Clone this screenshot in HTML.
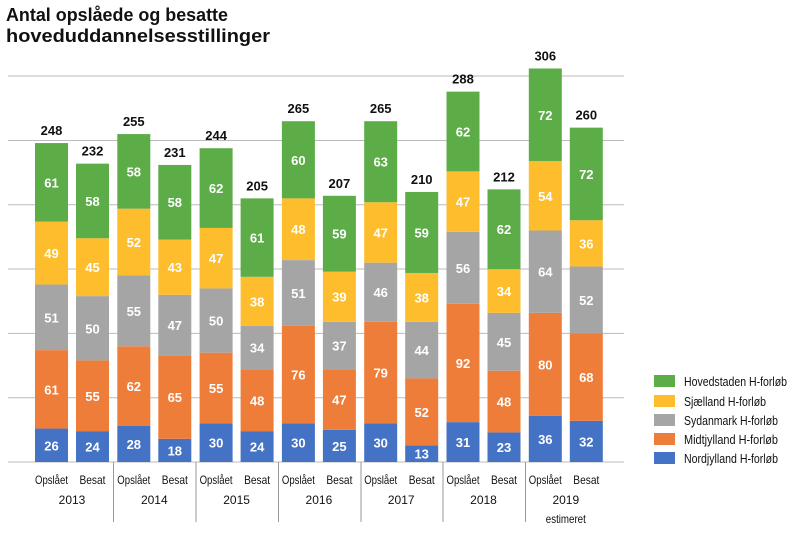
<!DOCTYPE html>
<html><head><meta charset="utf-8"><style>
html,body{margin:0;padding:0;background:#fff;}
svg{display:block;font-family:"Liberation Sans",sans-serif;}
.w{fill:#fff;font-weight:bold;font-size:13px;text-anchor:middle;}
.t{fill:#111;font-weight:bold;font-size:13px;text-anchor:middle;}
.c{fill:#111;font-size:12px;text-anchor:middle;}
.l{fill:#111;font-size:12.5px;}
</style></head><body>
<svg width="800" height="536" viewBox="0 0 800 536">
<text x="6" y="21" font-size="18" font-weight="bold" fill="#111" textLength="222" lengthAdjust="spacingAndGlyphs">Antal opslåede og besatte</text>
<text x="6" y="42" font-size="18" font-weight="bold" fill="#111" textLength="264" lengthAdjust="spacingAndGlyphs">hoveduddannelsesstillinger</text>
<g stroke="#bbb" stroke-width="1">
<line x1="8" y1="76" x2="624" y2="76"/><line x1="8" y1="140.5" x2="624" y2="140.5"/><line x1="8" y1="204.8" x2="624" y2="204.8"/><line x1="8" y1="269" x2="624" y2="269"/><line x1="8" y1="333.4" x2="624" y2="333.4"/><line x1="8" y1="397.7" x2="624" y2="397.7"/><line x1="8" y1="462" x2="624" y2="462"/>
</g>
<g stroke="#999" stroke-width="1">
<line x1="113.5" y1="462" x2="113.5" y2="522"/><line x1="196" y1="462" x2="196" y2="522"/><line x1="278.5" y1="462" x2="278.5" y2="522"/><line x1="361" y1="462" x2="361" y2="522"/><line x1="443" y1="462" x2="443" y2="522"/><line x1="525.5" y1="462" x2="525.5" y2="522"/>
</g>
<g transform="translate(0,462) scale(1,-1.286)">
<rect x="35" y="0" width="33" height="26" fill="#4472c4"/><rect x="35" y="26" width="33" height="61" fill="#ef7d3a"/><rect x="35" y="87" width="33" height="51" fill="#a5a5a5"/><rect x="35" y="138" width="33" height="49" fill="#fdbd2c"/><rect x="35" y="187" width="33" height="61" fill="#5cac48"/>
<rect x="76" y="0" width="33" height="24" fill="#4472c4"/><rect x="76" y="24" width="33" height="55" fill="#ef7d3a"/><rect x="76" y="79" width="33" height="50" fill="#a5a5a5"/><rect x="76" y="129" width="33" height="45" fill="#fdbd2c"/><rect x="76" y="174" width="33" height="58" fill="#5cac48"/>
<rect x="117.3" y="0" width="33" height="28" fill="#4472c4"/><rect x="117.3" y="28" width="33" height="62" fill="#ef7d3a"/><rect x="117.3" y="90" width="33" height="55" fill="#a5a5a5"/><rect x="117.3" y="145" width="33" height="52" fill="#fdbd2c"/><rect x="117.3" y="197" width="33" height="58" fill="#5cac48"/>
<rect x="158.3" y="0" width="33" height="18" fill="#4472c4"/><rect x="158.3" y="18" width="33" height="65" fill="#ef7d3a"/><rect x="158.3" y="83" width="33" height="47" fill="#a5a5a5"/><rect x="158.3" y="130" width="33" height="43" fill="#fdbd2c"/><rect x="158.3" y="173" width="33" height="58" fill="#5cac48"/>
<rect x="199.6" y="0" width="33" height="30" fill="#4472c4"/><rect x="199.6" y="30" width="33" height="55" fill="#ef7d3a"/><rect x="199.6" y="85" width="33" height="50" fill="#a5a5a5"/><rect x="199.6" y="135" width="33" height="47" fill="#fdbd2c"/><rect x="199.6" y="182" width="33" height="62" fill="#5cac48"/>
<rect x="240.6" y="0" width="33" height="24" fill="#4472c4"/><rect x="240.6" y="24" width="33" height="48" fill="#ef7d3a"/><rect x="240.6" y="72" width="33" height="34" fill="#a5a5a5"/><rect x="240.6" y="106" width="33" height="38" fill="#fdbd2c"/><rect x="240.6" y="144" width="33" height="61" fill="#5cac48"/>
<rect x="281.9" y="0" width="33" height="30" fill="#4472c4"/><rect x="281.9" y="30" width="33" height="76" fill="#ef7d3a"/><rect x="281.9" y="106" width="33" height="51" fill="#a5a5a5"/><rect x="281.9" y="157" width="33" height="48" fill="#fdbd2c"/><rect x="281.9" y="205" width="33" height="60" fill="#5cac48"/>
<rect x="322.9" y="0" width="33" height="25" fill="#4472c4"/><rect x="322.9" y="25" width="33" height="47" fill="#ef7d3a"/><rect x="322.9" y="72" width="33" height="37" fill="#a5a5a5"/><rect x="322.9" y="109" width="33" height="39" fill="#fdbd2c"/><rect x="322.9" y="148" width="33" height="59" fill="#5cac48"/>
<rect x="364.2" y="0" width="33" height="30" fill="#4472c4"/><rect x="364.2" y="30" width="33" height="79" fill="#ef7d3a"/><rect x="364.2" y="109" width="33" height="46" fill="#a5a5a5"/><rect x="364.2" y="155" width="33" height="47" fill="#fdbd2c"/><rect x="364.2" y="202" width="33" height="63" fill="#5cac48"/>
<rect x="405.2" y="0" width="33" height="13" fill="#4472c4"/><rect x="405.2" y="13" width="33" height="52" fill="#ef7d3a"/><rect x="405.2" y="65" width="33" height="44" fill="#a5a5a5"/><rect x="405.2" y="109" width="33" height="38" fill="#fdbd2c"/><rect x="405.2" y="147" width="33" height="63" fill="#5cac48"/>
<rect x="446.5" y="0" width="33" height="31" fill="#4472c4"/><rect x="446.5" y="31" width="33" height="92" fill="#ef7d3a"/><rect x="446.5" y="123" width="33" height="56" fill="#a5a5a5"/><rect x="446.5" y="179" width="33" height="47" fill="#fdbd2c"/><rect x="446.5" y="226" width="33" height="62" fill="#5cac48"/>
<rect x="487.5" y="0" width="33" height="23" fill="#4472c4"/><rect x="487.5" y="23" width="33" height="48" fill="#ef7d3a"/><rect x="487.5" y="71" width="33" height="45" fill="#a5a5a5"/><rect x="487.5" y="116" width="33" height="34" fill="#fdbd2c"/><rect x="487.5" y="150" width="33" height="62" fill="#5cac48"/>
<rect x="528.8" y="0" width="33" height="36" fill="#4472c4"/><rect x="528.8" y="36" width="33" height="80" fill="#ef7d3a"/><rect x="528.8" y="116" width="33" height="64" fill="#a5a5a5"/><rect x="528.8" y="180" width="33" height="54" fill="#fdbd2c"/><rect x="528.8" y="234" width="33" height="72" fill="#5cac48"/>
<rect x="569.8" y="0" width="33" height="32" fill="#4472c4"/><rect x="569.8" y="32" width="33" height="68" fill="#ef7d3a"/><rect x="569.8" y="100" width="33" height="52" fill="#a5a5a5"/><rect x="569.8" y="152" width="33" height="36" fill="#fdbd2c"/><rect x="569.8" y="188" width="33" height="72" fill="#5cac48"/>
</g>
<g>
<text x="51.5" y="450.3" class="w">26</text><text x="51.5" y="394.3" class="w">61</text><text x="51.5" y="322.3" class="w">51</text><text x="51.5" y="258" class="w">49</text><text x="51.5" y="187.3" class="w">61</text>
<text x="92.5" y="451.6" class="w">24</text><text x="92.5" y="400.8" class="w">55</text><text x="92.5" y="333.3" class="w">50</text><text x="92.5" y="272.2" class="w">45</text><text x="92.5" y="205.9" class="w">58</text>
<text x="133.8" y="449" class="w">28</text><text x="133.8" y="391.1" class="w">62</text><text x="133.8" y="315.9" class="w">55</text><text x="133.8" y="247.1" class="w">52</text><text x="133.8" y="176.4" class="w">58</text>
<text x="174.8" y="455.4" class="w">18</text><text x="174.8" y="402.1" class="w">65</text><text x="174.8" y="330" class="w">47</text><text x="174.8" y="272.2" class="w">43</text><text x="174.8" y="207.2" class="w">58</text>
<text x="216.1" y="447.7" class="w">30</text><text x="216.1" y="393.1" class="w">55</text><text x="216.1" y="325.5" class="w">50</text><text x="216.1" y="263.2" class="w">47</text><text x="216.1" y="193.1" class="w">62</text>
<text x="257.1" y="451.6" class="w">24</text><text x="257.1" y="405.3" class="w">48</text><text x="257.1" y="352.5" class="w">34</text><text x="257.1" y="306.3" class="w">38</text><text x="257.1" y="242.6" class="w">61</text>
<text x="298.4" y="447.7" class="w">30</text><text x="298.4" y="379.6" class="w">76</text><text x="298.4" y="297.9" class="w">51</text><text x="298.4" y="234.2" class="w">48</text><text x="298.4" y="164.8" class="w">60</text>
<text x="339.4" y="450.9" class="w">25</text><text x="339.4" y="404.6" class="w">47</text><text x="339.4" y="350.6" class="w">37</text><text x="339.4" y="301.7" class="w">39</text><text x="339.4" y="238.7" class="w">59</text>
<text x="380.7" y="447.7" class="w">30</text><text x="380.7" y="377.6" class="w">79</text><text x="380.7" y="297.2" class="w">46</text><text x="380.7" y="237.5" class="w">47</text><text x="380.7" y="166.7" class="w">63</text>
<text x="421.7" y="458.6" class="w">13</text><text x="421.7" y="416.8" class="w">52</text><text x="421.7" y="355.1" class="w">44</text><text x="421.7" y="302.4" class="w">38</text><text x="421.7" y="237.4" class="w">59</text>
<text x="463" y="447.1" class="w">31</text><text x="463" y="368" class="w">92</text><text x="463" y="272.8" class="w">56</text><text x="463" y="206.6" class="w">47</text><text x="463" y="136.5" class="w">62</text>
<text x="504" y="452.2" class="w">23</text><text x="504" y="406.6" class="w">48</text><text x="504" y="346.8" class="w">45</text><text x="504" y="296" class="w">34</text><text x="504" y="234.2" class="w">62</text>
<text x="545.3" y="443.9" class="w">36</text><text x="545.3" y="369.3" class="w">80</text><text x="545.3" y="276.7" class="w">64</text><text x="545.3" y="200.8" class="w">54</text><text x="545.3" y="119.8" class="w">72</text>
<text x="586.3" y="446.4" class="w">32</text><text x="586.3" y="382.1" class="w">68</text><text x="586.3" y="305" class="w">52</text><text x="586.3" y="248.4" class="w">36</text><text x="586.3" y="179" class="w">72</text>
</g>
<text x="51.5" y="135" class="t">248</text><text x="92.5" y="155.6" class="t">232</text>
<text x="133.8" y="126.1" class="t">255</text><text x="174.8" y="156.9" class="t">231</text>
<text x="216.1" y="140.2" class="t">244</text><text x="257.1" y="190.4" class="t">205</text>
<text x="298.4" y="113.2" class="t">265</text><text x="339.4" y="187.8" class="t">207</text>
<text x="380.7" y="113.2" class="t">265</text><text x="421.7" y="184" class="t">210</text>
<text x="463" y="83.6" class="t">288</text><text x="504" y="181.4" class="t">212</text>
<text x="545.3" y="60.5" class="t">306</text><text x="586.3" y="119.6" class="t">260</text>
<g>
<text x="51.5" y="484" class="c" textLength="33" lengthAdjust="spacingAndGlyphs">Opslået</text><text x="92.5" y="484" class="c" textLength="26" lengthAdjust="spacingAndGlyphs">Besat</text><text x="72" y="504" class="c">2013</text>
<text x="133.8" y="484" class="c" textLength="33" lengthAdjust="spacingAndGlyphs">Opslået</text><text x="174.8" y="484" class="c" textLength="26" lengthAdjust="spacingAndGlyphs">Besat</text><text x="154.3" y="504" class="c">2014</text>
<text x="216.1" y="484" class="c" textLength="33" lengthAdjust="spacingAndGlyphs">Opslået</text><text x="257.1" y="484" class="c" textLength="26" lengthAdjust="spacingAndGlyphs">Besat</text><text x="236.6" y="504" class="c">2015</text>
<text x="298.4" y="484" class="c" textLength="33" lengthAdjust="spacingAndGlyphs">Opslået</text><text x="339.4" y="484" class="c" textLength="26" lengthAdjust="spacingAndGlyphs">Besat</text><text x="318.9" y="504" class="c">2016</text>
<text x="380.7" y="484" class="c" textLength="33" lengthAdjust="spacingAndGlyphs">Opslået</text><text x="421.7" y="484" class="c" textLength="26" lengthAdjust="spacingAndGlyphs">Besat</text><text x="401.2" y="504" class="c">2017</text>
<text x="463" y="484" class="c" textLength="33" lengthAdjust="spacingAndGlyphs">Opslået</text><text x="504" y="484" class="c" textLength="26" lengthAdjust="spacingAndGlyphs">Besat</text><text x="483.5" y="504" class="c">2018</text>
<text x="545.3" y="484" class="c" textLength="33" lengthAdjust="spacingAndGlyphs">Opslået</text><text x="586.3" y="484" class="c" textLength="26" lengthAdjust="spacingAndGlyphs">Besat</text><text x="565.8" y="504" class="c">2019</text>
<text x="565.8" y="523" class="c" textLength="40" lengthAdjust="spacingAndGlyphs">estimeret</text>
</g>
<rect x="654" y="375" width="21" height="12" fill="#5cac48"/><text x="684" y="386" class="l" textLength="103" lengthAdjust="spacingAndGlyphs">Hovedstaden H-forløb</text>
<rect x="654" y="395" width="21" height="12" fill="#fdbd2c"/><text x="684" y="406" class="l" textLength="82" lengthAdjust="spacingAndGlyphs">Sjælland H-forløb</text>
<rect x="654" y="414" width="21" height="12" fill="#a5a5a5"/><text x="684" y="425" class="l" textLength="94" lengthAdjust="spacingAndGlyphs">Sydanmark H-forløb</text>
<rect x="654" y="433" width="21" height="12" fill="#ef7d3a"/><text x="684" y="444" class="l" textLength="94" lengthAdjust="spacingAndGlyphs">Midtjylland H-forløb</text>
<rect x="654" y="452" width="21" height="12" fill="#4472c4"/><text x="684" y="463" class="l" textLength="94" lengthAdjust="spacingAndGlyphs">Nordjylland H-forløb</text>
</svg>
</body></html>
